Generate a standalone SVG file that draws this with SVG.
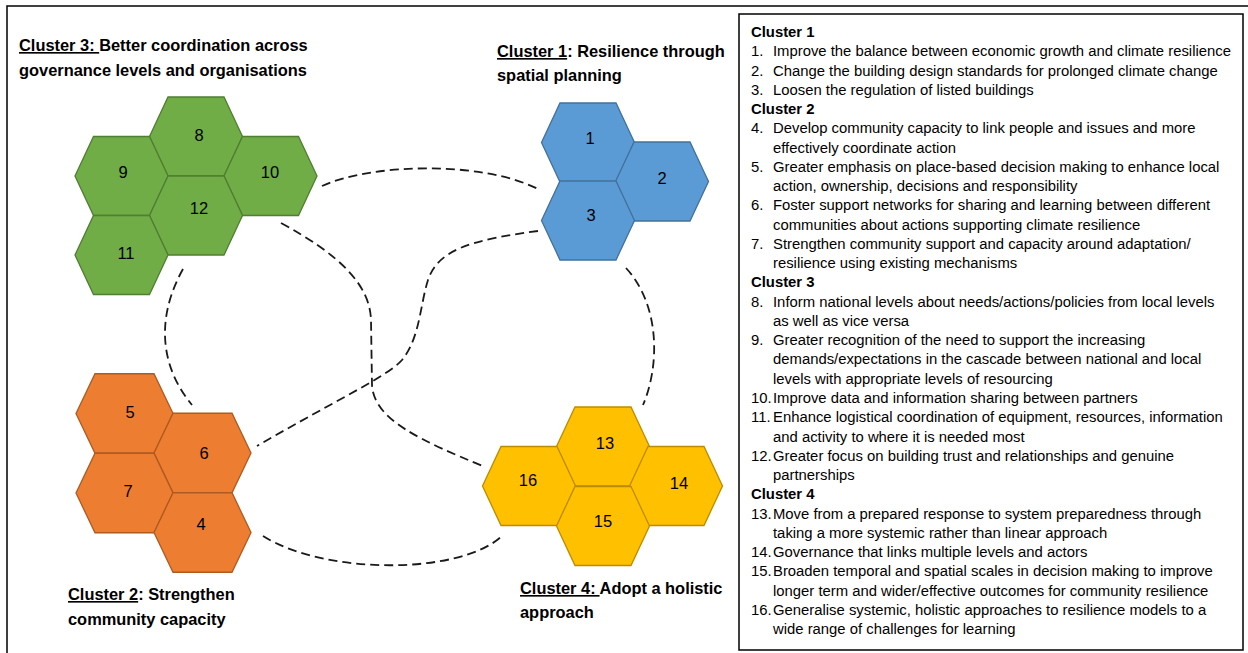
<svg xmlns="http://www.w3.org/2000/svg" xmlns:xlink="http://www.w3.org/1999/xlink" width="1248" height="653" viewBox="0 0 1248 653">
  <style>
    .frame { fill: none; stroke: #000; stroke-width: 1.5; }
    .hex { stroke-width: 1.3; }
    .g { fill: #70AD47; stroke: #507E32; }
    .b { fill: #5B9BD5; stroke: #41719C; }
    .o { fill: #ED7D31; stroke: #AE5A21; }
    .y { fill: #FFC000; stroke: #BC8C00; }
    .num { font-family: "Liberation Sans", Arial, sans-serif; font-size: 16.5px; fill: #000; text-anchor: middle; }
    .title { font-family: "Liberation Sans", Arial, sans-serif; font-size: 16.4px; font-weight: bold; fill: #000; }
    .u { text-decoration: underline; }
    .link { fill: none; stroke: #1a1a1a; stroke-width: 1.8; stroke-dasharray: 9 5; }
    .list { font-family: "Liberation Sans", Arial, sans-serif; font-size: 14.85px; fill: #000; }
    .head { font-weight: bold; }
  </style>
  <defs>
    <polygon id="hex" points="-46.5,0 -28,-39.5 28,-39.5 46.5,0 28,39.5 -28,39.5"/>
    <polygon id="hexw" points="-48.5,0 -29.5,-39.75 29.5,-39.75 48.5,0 29.5,39.75 -29.5,39.75"/>
  </defs>

  <rect width="1248" height="653" fill="#fff"/>
  <!-- outer frame (open at right and bottom edges) -->
  <rect class="frame" x="7" y="6" width="1260" height="680"/>

  <!-- dashed links between clusters -->
  <g id="connectors">
    <path class="link" d="M322,186 C370,164 480,160 538,189"/>
    <path class="link" d="M281,223 C340,255 370,285 371,320 L372,385 C374,420 420,440 485,467"/>
    <path class="link" d="M538,231 C470,240 438,250 428,280 C420,305 420,338 402,360 C388,376 340,398 257,446"/>
    <path class="link" d="M183,269 C160,310 155,360 192,405"/>
    <path class="link" d="M626,268 C660,305 660,365 643,405"/>
    <path class="link" d="M263,536 C325,575 460,575 502,536"/>
  </g>

  <!-- Cluster 3 (green) -->
  <g id="cluster3">
    <use href="#hex" class="hex g" transform="translate(196,136.5)"/>
    <use href="#hex" class="hex g" transform="translate(121.5,176)"/>
    <use href="#hex" class="hex g" transform="translate(270.5,176)"/>
    <use href="#hex" class="hex g" transform="translate(196,215.5)"/>
    <use href="#hex" class="hex g" transform="translate(121.5,255)"/>
    <text class="num" x="199" y="141">8</text>
    <text class="num" x="123" y="178">9</text>
    <text class="num" x="270" y="178">10</text>
    <text class="num" x="199" y="214">12</text>
    <text class="num" x="126" y="259">11</text>
    <text class="title" x="19" y="51"><tspan class="u">Cluster 3: </tspan>Better coordination across</text>
    <text class="title" x="19" y="76">governance levels and organisations</text>
  </g>

  <!-- Cluster 1 (blue) -->
  <g id="cluster1">
    <use href="#hex" class="hex b" transform="translate(588,142.5)"/>
    <use href="#hex" class="hex b" transform="translate(662,181.5)"/>
    <use href="#hex" class="hex b" transform="translate(588,220.5)"/>
    <text class="num" x="590" y="144">1</text>
    <text class="num" x="662" y="184">2</text>
    <text class="num" x="591" y="221">3</text>
    <text class="title" x="497" y="57"><tspan class="u">Cluster 1</tspan>: Resilience through</text>
    <text class="title" x="497" y="81">spatial planning</text>
  </g>

  <!-- Cluster 2 (orange) -->
  <g id="cluster2">
    <use href="#hexw" class="hex o" transform="translate(124.5,413.5)"/>
    <use href="#hexw" class="hex o" transform="translate(202.5,453)"/>
    <use href="#hexw" class="hex o" transform="translate(124.5,493)"/>
    <use href="#hexw" class="hex o" transform="translate(202.5,532.5)"/>
    <text class="num" x="130" y="418">5</text>
    <text class="num" x="204" y="459">6</text>
    <text class="num" x="128" y="497">7</text>
    <text class="num" x="201" y="530">4</text>
    <text class="title" x="68" y="600"><tspan class="u">Cluster 2</tspan>: Strengthen</text>
    <text class="title" x="68" y="625">community capacity</text>
  </g>

  <!-- Cluster 4 (gold) -->
  <g id="cluster4">
    <use href="#hex" class="hex y" transform="translate(603,446.5)"/>
    <use href="#hex" class="hex y" transform="translate(529,486)"/>
    <use href="#hex" class="hex y" transform="translate(676,486)"/>
    <use href="#hex" class="hex y" transform="translate(603,526)"/>
    <text class="num" x="605" y="449">13</text>
    <text class="num" x="528" y="486">16</text>
    <text class="num" x="679" y="489">14</text>
    <text class="num" x="603" y="527">15</text>
    <text class="title" x="520" y="594"><tspan class="u">Cluster 4: </tspan>Adopt a holistic</text>
    <text class="title" x="520" y="618">approach</text>
  </g>

  <!-- legend listing the actions of each cluster -->
  <g id="legend">
    <rect class="frame" x="739" y="14" width="504" height="636"/>
    <text class="list">
      <tspan class="head" x="751" y="37">Cluster 1</tspan>
      <tspan x="751" y="56.3">1.</tspan><tspan x="773" y="56.3">Improve the balance between economic growth and climate resilience</tspan>
      <tspan x="751" y="75.5">2.</tspan><tspan x="773" y="75.5">Change the building design standards for prolonged climate change</tspan>
      <tspan x="751" y="94.8">3.</tspan><tspan x="773" y="94.8">Loosen the regulation of listed buildings</tspan>
      <tspan class="head" x="751" y="114">Cluster 2</tspan>
      <tspan x="751" y="133.3">4.</tspan><tspan x="773" y="133.3">Develop community capacity to link people and issues and more</tspan>
      <tspan x="773" y="152.6">effectively coordinate action</tspan>
      <tspan x="751" y="171.8">5.</tspan><tspan x="773" y="171.8">Greater emphasis on place-based decision making to enhance local</tspan>
      <tspan x="773" y="191.1">action, ownership, decisions and responsibility</tspan>
      <tspan x="751" y="210.3">6.</tspan><tspan x="773" y="210.3">Foster support networks for sharing and learning between different</tspan>
      <tspan x="773" y="229.6">communities about actions supporting climate resilience</tspan>
      <tspan x="751" y="248.9">7.</tspan><tspan x="773" y="248.9">Strengthen community support and capacity around adaptation/</tspan>
      <tspan x="773" y="268.1">resilience using existing mechanisms</tspan>
      <tspan class="head" x="751" y="287.4">Cluster 3</tspan>
      <tspan x="751" y="306.6">8.</tspan><tspan x="773" y="306.6">Inform national levels about needs/actions/policies from local levels</tspan>
      <tspan x="773" y="325.9">as well as vice versa</tspan>
      <tspan x="751" y="345.2">9.</tspan><tspan x="773" y="345.2">Greater recognition of the need to support the increasing</tspan>
      <tspan x="773" y="364.4">demands/expectations in the cascade between national and local</tspan>
      <tspan x="773" y="383.7">levels with appropriate levels of resourcing</tspan>
      <tspan x="751" y="402.9">10.</tspan><tspan x="773" y="402.9">Improve data and information sharing between partners</tspan>
      <tspan x="751" y="422.2">11.</tspan><tspan x="773" y="422.2">Enhance logistical coordination of equipment, resources, information</tspan>
      <tspan x="773" y="441.5">and activity to where it is needed most</tspan>
      <tspan x="751" y="460.7">12.</tspan><tspan x="773" y="460.7">Greater focus on building trust and relationships and genuine</tspan>
      <tspan x="773" y="480">partnerships</tspan>
      <tspan class="head" x="751" y="499.2">Cluster 4</tspan>
      <tspan x="751" y="518.5">13.</tspan><tspan x="773" y="518.5">Move from a prepared response to system preparedness through</tspan>
      <tspan x="773" y="537.8">taking a more systemic rather than linear approach</tspan>
      <tspan x="751" y="557">14.</tspan><tspan x="773" y="557">Governance that links multiple levels and actors</tspan>
      <tspan x="751" y="576.3">15.</tspan><tspan x="773" y="576.3">Broaden temporal and spatial scales in decision making to improve</tspan>
      <tspan x="773" y="595.5">longer term and wider/effective outcomes for community resilience</tspan>
      <tspan x="751" y="614.8">16.</tspan><tspan x="773" y="614.8">Generalise systemic, holistic approaches to resilience models to a</tspan>
      <tspan x="773" y="634.1">wide range of challenges for learning</tspan>
    </text>
  </g>
</svg>
